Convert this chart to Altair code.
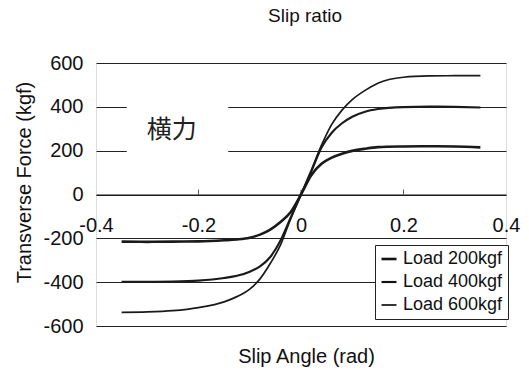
import altair as alt
import pandas as pd

# Slip angle (rad) at which the transverse force was sampled
slip_angle = [-0.35, -0.3, -0.25, -0.2, -0.15, -0.125, -0.1, -0.08, -0.06, -0.04, -0.02, 0.0,
              0.02, 0.04, 0.06, 0.08, 0.1, 0.125, 0.15, 0.2, 0.25, 0.3, 0.35]

# Transverse force (kgf) for each vertical load
force_200 = [-215, -216, -215, -214, -209, -205, -197, -183, -160, -125, -80, 0,
             88, 140, 168, 186, 199, 209, 216, 219, 220, 219, 215]
force_400 = [-398, -398, -397, -393, -381, -371, -352, -328, -285, -210, -105, 0,
             105, 215, 282, 325, 355, 378, 390, 399, 401, 400, 397]
force_600 = [-538, -536, -530, -516, -490, -466, -432, -385, -315, -230, -110, 0,
             110, 225, 320, 385, 433, 475, 508, 535, 541, 542, 542]

series_names = ["Load 200kgf", "Load 400kgf", "Load 600kgf"]
series_widths = [2.6, 1.7, 1.0]

x_ticks = [-0.4, -0.2, 0.0, 0.2, 0.4]
y_ticks = [-600, -400, -200, 0, 200, 400, 600]

# Annotation label and the blank patch behind it
note_text = ["横力"]
note_x = [-0.252]
note_y = [295]
patch_x = [-0.34]
patch_x2 = [-0.142]
patch_y = [140]
patch_y2 = [450]

FONT = "Liberation Sans"

rows = []
for name, values in zip(series_names, [force_200, force_400, force_600]):
    for a, f in zip(slip_angle, values):
        rows.append({"angle": a, "force": f, "load": name})
curves_df = pd.DataFrame(rows)

x_scale = alt.Scale(domain=[-0.4, 0.4], nice=False, zero=False)
y_scale = alt.Scale(domain=[-600, 600], nice=False, zero=False)

fix_minus = "datum.value == 0 ? '0' : replace(datum.label, '−', '-')"

x_axis = alt.Axis(
    values=x_ticks, offset=-131.5, ticks=False, tickSize=0, grid=False,
    domain=True, domainColor="#111", domainWidth=1,
    labelExpr=fix_minus, labelFont=FONT, labelFontSize=20, labelColor="#111",
    labelPadding=21, labelFlush=False, labelBaseline="top",
    title="Slip Angle (rad)", titleFont=FONT, titleFontSize=20, titleFontWeight="normal",
    titleColor="#111", titleX=210, titleY=162, titleBaseline="middle", titleAlign="center",
)
y_axis = alt.Axis(
    values=y_ticks, ticks=False, domain=False, grid=True, gridColor="#222", gridWidth=1,
    labelExpr=fix_minus, labelFont=FONT, labelFontSize=20, labelColor="#111",
    labelPadding=13,
    title="Transverse Force (kgf)", titleFont=FONT, titleFontSize=20, titleFontWeight="normal",
    titleColor="#111", titleX=-72, titleY=119, titleAngle=-90, titleAlign="center",
    titleBaseline="middle",
)

base = alt.Chart(curves_df)

curves = base.mark_line(color="#1a1a1a", interpolate="monotone").encode(
    x=alt.X("angle:Q", scale=x_scale, axis=x_axis),
    y=alt.Y("force:Q", scale=y_scale, axis=y_axis),
    strokeWidth=alt.StrokeWidth(
        "load:N",
        scale=alt.Scale(domain=series_names, range=series_widths),
        legend=alt.Legend(
            title=None, orient="none", legendX=279, legendY=182,
            fillColor="white", strokeColor="#222", padding=5,
            symbolType="stroke", symbolStrokeColor="#111", symbolSize=225,
            labelFont=FONT, labelFontSize=18, labelColor="#111",
            labelOffset=5, rowPadding=5, labelLimit=200,
        ),
    ),
    detail="load:N",
)

tick_df = pd.DataFrame({"angle": x_ticks[1:-1], "force": [0] * 3})
ticks = alt.Chart(tick_df).mark_tick(
    orient="vertical", size=5, thickness=1, color="#111", yOffset=-2.5
).encode(
    x=alt.X("angle:Q", scale=x_scale),
    y=alt.Y("force:Q", scale=y_scale),
)

patch_df = pd.DataFrame({"x": patch_x, "x2": patch_x2, "y": patch_y, "y2": patch_y2})
patch = alt.Chart(patch_df).mark_rect(color="white").encode(
    x=alt.X("x:Q", scale=x_scale), x2="x2:Q",
    y=alt.Y("y:Q", scale=y_scale), y2="y2:Q",
)

note_df = pd.DataFrame({"text": note_text, "x": note_x, "y": note_y})
note = alt.Chart(note_df).mark_text(
    font="Noto Sans CJK JP", fontSize=25, color="#222", align="center", baseline="middle"
).encode(
    x=alt.X("x:Q", scale=x_scale),
    y=alt.Y("y:Q", scale=y_scale),
    text="text:N",
)

chart = alt.layer(patch, ticks, curves, note).properties(
    width=410,
    height=263,
    title=alt.TitleParams("Slip ratio", font=FONT, fontSize=19, fontWeight="normal",
                          color="#111", anchor="middle", offset=27, dx=4),
    autosize=alt.AutoSizeParams(type="none"),
    padding={"left": 96, "top": 63, "right": 23, "bottom": 44},
).configure_view(
    stroke="#222", strokeWidth=1.2
).configure(background="white")

chart.save("out.html", embed_options={"renderer": "svg", "actions": False})
